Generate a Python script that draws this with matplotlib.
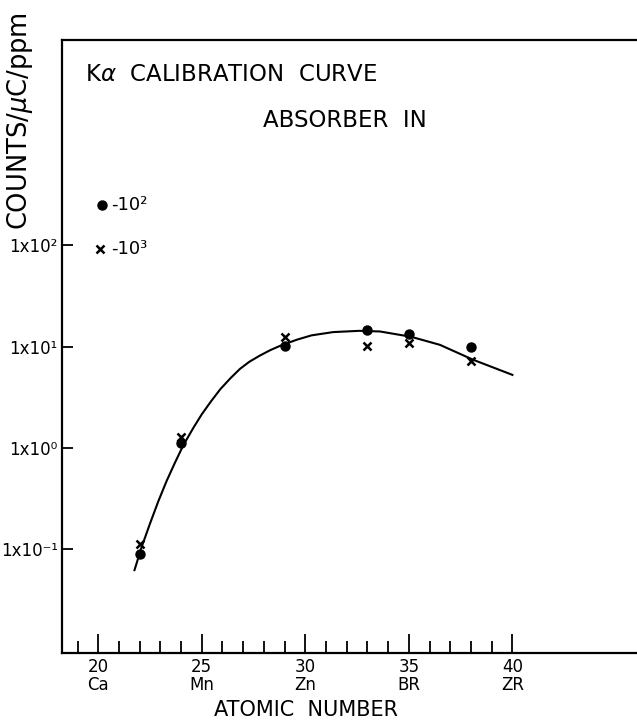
import numpy as np
import matplotlib
matplotlib.use("Agg")
import matplotlib.pyplot as plt

plt.rcParams['font.family'] = ['DejaVu Sans']
plt.rcParams['mathtext.fontset'] = 'dejavusans'

# measured points (atomic number, counts / uC / ppm)
z_pts = [22, 24, 29, 33, 35, 38]
dots_1e2 = [0.0885, 1.11, 10.1, 14.6, 13.3, 10.0]
cross_1e3 = [0.112, 1.28, 12.5, 10.1, 10.9, 7.26]

# hand drawn calibration curve
curve_z = [21.75, 22.1, 22.5, 22.9, 23.3, 23.7, 24.1, 24.6, 25.0, 25.45, 25.9, 26.4,
           26.85, 27.3, 27.8, 28.3, 28.8, 29.6, 30.3, 31.35, 32.6, 33.6, 35.1, 36.5,
           38.1, 40.0]
curve_v = [0.0617, 0.105, 0.178, 0.295, 0.468, 0.708, 1.05, 1.58, 2.14, 2.88, 3.80, 4.90,
           6.03, 7.08, 8.13, 9.20, 10.2, 11.7, 12.9, 13.9, 14.3, 14.1, 12.5, 10.4,
           7.41, 5.25]

xticks_major = [20, 25, 30, 35, 40]
xtick_labels = ['20\nCa', '25\nMn', '30\nZn', '35\nBR', '40\nZR']
yticks = [0.1, 1, 10, 100]
ytick_labels = ['1x10⁻¹', '1x10⁰', '1x10¹', '1x10²']

fig = plt.figure(figsize=(6.37, 7.23), dpi=100)
ax = fig.add_axes([62/637, 1-652.7/723, 574/637, (652.7-40)/723])

ax.plot(curve_z, curve_v, color='black', lw=1.5, solid_joinstyle='round')
ax.plot(z_pts, dots_1e2, 'o', color='black', ms=6.5, ls='none')
ax.plot(z_pts, cross_1e3, 'x', color='black', ms=5.5, mew=1.8, ls='none')

ax.set_yscale('log')
ax.set_xlim(18.25, 45.97)
ax.set_ylim(10**-2.026, 10**4.03)

ax.set_xticks(xticks_major)
ax.set_xticklabels(xtick_labels, fontsize=12, linespacing=0.95)
ax.set_xticks([z for z in range(19, 40) if z not in xticks_major], minor=True)
ax.tick_params(axis='x', which='major', direction='in', length=14, width=1.3, pad=4)
ax.tick_params(axis='x', which='minor', direction='in', length=8.5, width=1.3)

ax.set_yticks(yticks)
ax.set_yticklabels(ytick_labels, fontsize=12)
ax.yaxis.set_minor_locator(matplotlib.ticker.NullLocator())
ax.tick_params(axis='y', which='major', direction='in', length=8, width=1.3, pad=3)

for s in ['left', 'top', 'bottom']:
    ax.spines[s].set_linewidth(1.6)
ax.spines['right'].set_visible(False)

ax.text(0.04, 0.943, r'K$\alpha$  CALIBRATION  CURVE', transform=ax.transAxes,
        fontsize=16.5, va='center', ha='left')
ax.text(0.35, 0.869, 'ABSORBER  IN', transform=ax.transAxes,
        fontsize=16.5, va='center', ha='left')

# legend drawn by hand like the original
ax.plot([0.07], [0.731], 'o', color='black', ms=6.5, transform=ax.transAxes, clip_on=False)
ax.text(0.085, 0.731, '-10²', transform=ax.transAxes, fontsize=13, va='center')
ax.plot([0.066], [0.659], 'x', color='black', ms=5.5, mew=1.8, transform=ax.transAxes, clip_on=False)
ax.text(0.085, 0.659, '-10³', transform=ax.transAxes, fontsize=13, va='center')

fig.text(306/637, 1-710/723, 'ATOMIC  NUMBER', fontsize=15, ha='center', va='center')
fig.text(20/637, 1-121/723, r'COUNTS/$\mu$C/ppm', fontsize=18.5, rotation=90,
         ha='center', va='center')

fig.savefig('out.png', dpi=100)
